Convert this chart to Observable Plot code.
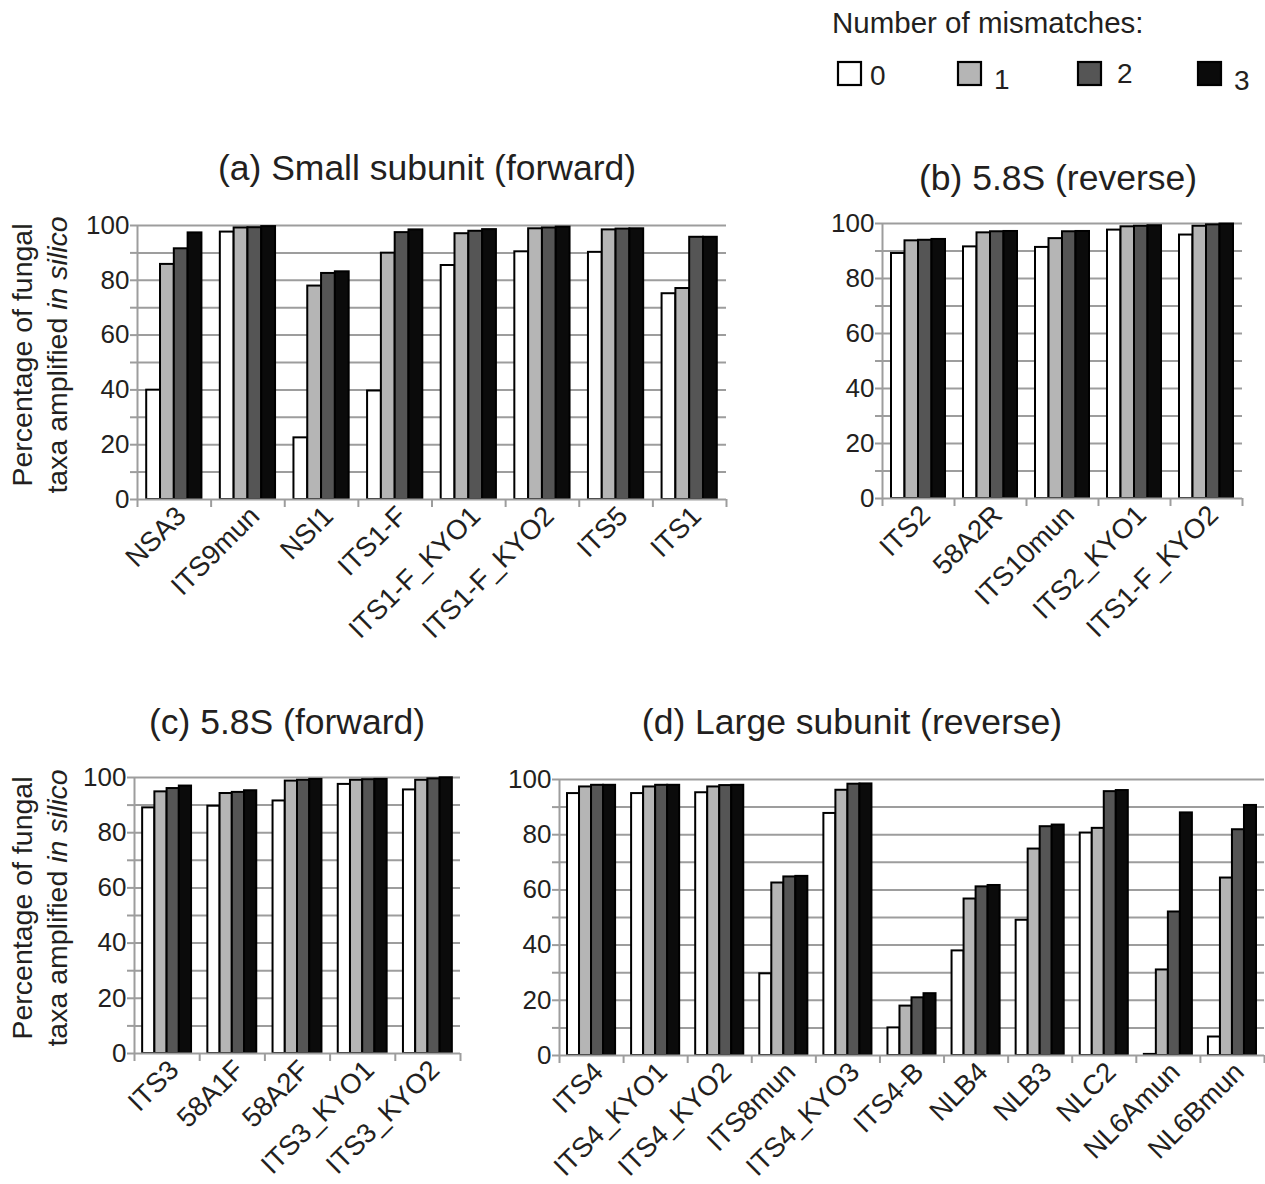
<!DOCTYPE html>
<html><head><meta charset="utf-8">
<script src="https://cdn.jsdelivr.net/npm/d3@7"></script>
<script src="https://cdn.jsdelivr.net/npm/@observablehq/plot@0.6"></script>
<style>
html,body{margin:0;padding:0;background:#fff;overflow:hidden;}
body{width:1265px;height:1184px;position:relative;font-family:"Liberation Sans",Arial,sans-serif;color:#231f20;}
.abs{position:absolute;}
.title{position:absolute;width:800px;text-align:center;font-size:35.5px;line-height:38px;white-space:nowrap;}
.ylab{position:absolute;width:400px;height:70px;text-align:center;font-size:28.5px;line-height:35px;transform:rotate(-90deg);white-space:nowrap;}
svg [aria-label="x-axis tick label"]{font-size:27.5px;}
</style></head><body>
<script>
// ---------- shared ----------
const mismatchLevels = [0, 1, 2, 3];
const mismatchFills = ["#ffffff", "#b5b5b5", "#555555", "#0b0b0b"];
const yTicks = [0, 10, 20, 30, 40, 50, 60, 70, 80, 90, 100];

// ---------- (a) Small subunit (forward) ----------
const catsA = ["NSA3", "ITS9mun", "NSI1", "ITS1-F", "ITS1-F_KYO1", "ITS1-F_KYO2", "ITS5", "ITS1"];
const a0 = [39.9, 97.6, 22.5, 39.6, 85.4, 90.4, 90.2, 75.1];
const a1 = [85.8, 99.1, 77.9, 89.9, 97.0, 98.8, 98.4, 77.0];
const a2 = [91.5, 99.2, 82.5, 97.4, 97.9, 99.1, 98.7, 95.7];
const a3 = [97.3, 99.6, 83.1, 98.4, 98.5, 99.4, 98.8, 95.7];

// ---------- (b) 5.8S (reverse) ----------
const catsB = ["ITS2", "58A2R", "ITS10mun", "ITS2_KYO1", "ITS1-F_KYO2"];
const b0 = [89.1, 91.5, 91.3, 97.6, 95.8];
const b1 = [93.7, 96.6, 94.5, 98.8, 99.0];
const b2 = [93.9, 97.0, 97.0, 99.0, 99.5];
const b3 = [94.2, 97.1, 97.1, 99.2, 99.8];

// ---------- (c) 5.8S (forward) ----------
const catsC = ["ITS3", "58A1F", "58A2F", "ITS3_KYO1", "ITS3_KYO2"];
const c0 = [89.0, 89.6, 91.5, 97.5, 95.5];
const c1 = [94.8, 94.2, 98.7, 99.0, 99.0];
const c2 = [96.0, 94.6, 99.0, 99.2, 99.5];
const c3 = [96.9, 95.2, 99.3, 99.3, 99.9];

// ---------- (d) Large subunit (reverse) ----------
const catsD = ["ITS4", "ITS4_KYO1", "ITS4_KYO2", "ITS8mun", "ITS4_KYO3", "ITS4-B", "NLB4", "NLB3", "NLC2", "NL6Amun", "NL6Bmun"];
const lsu0 = [94.9, 94.9, 95.2, 29.6, 87.7, 10.0, 37.9, 49.0, 80.6, 0.4, 6.7];
const lsu1 = [97.3, 97.3, 97.3, 62.5, 96.1, 17.9, 56.7, 74.8, 82.3, 31.0, 64.3];
const lsu2 = [97.9, 97.9, 97.8, 64.7, 98.3, 20.9, 61.1, 82.9, 95.6, 52.0, 81.8];
const lsu3 = [97.9, 97.9, 97.9, 64.9, 98.4, 22.4, 61.6, 83.5, 96.0, 87.9, 90.6];

const GRID = "#9d9d9d";
const TEXT = "#231f20";
const GROUP_PAD = 0.125;   // gap on each side of a cluster (fraction of band)
const BAR_W = 0.1875;      // each of the four bars (fraction of band)

function addDiv(cls, left, top, html) {
  const el = document.createElement("div");
  el.className = cls;
  el.style.left = left + "px";
  el.style.top = top + "px";
  el.innerHTML = html;
  document.body.appendChild(el);
  return el;
}

function panel({cats, series, plotLeft, plotRight, plotTop, plotBottom, mL = 70, mR = 5, mT = 10, mB = 170}) {
  const n = cats.length;
  const rows = [];
  cats.forEach((c, i) => mismatchLevels.forEach(m => rows.push({cat: c, i, m, v: series[m][i]})));
  const plotW = plotRight - plotLeft, plotH = plotBottom - plotTop;
  const chart = Plot.plot({
    width: mL + plotW + mR,
    height: mT + plotH + mB,
    marginLeft: mL, marginRight: mR, marginTop: mT, marginBottom: mB,
    style: {fontFamily: '"Liberation Sans", Arial, sans-serif', fontSize: "26px", color: TEXT, background: "transparent", overflow: "visible"},
    x: {domain: [0, n]},
    y: {domain: [0, 100]},
    color: {type: "ordinal", domain: mismatchLevels, range: mismatchFills},
    marks: [
      Plot.gridY(yTicks.filter(v => v > 0), {stroke: GRID, strokeWidth: 2, strokeOpacity: 1}),
      Plot.rect(rows, {
        x1: d => d.i + GROUP_PAD + d.m * BAR_W,
        x2: d => d.i + GROUP_PAD + (d.m + 1) * BAR_W,
        y1: d => 0,
        y2: "v",
        fill: "m",
        stroke: "#000",
        strokeWidth: 2
      }),
      Plot.ruleY([0], {stroke: GRID, strokeWidth: 2}),
      Plot.ruleX([0], {stroke: GRID, strokeWidth: 2}),
      Plot.axisY({ticks: yTicks, tickSize: 7, tickPadding: 1, tickFormat: d => d % 20 === 0 ? String(d) : "", stroke: GRID, strokeWidth: 2, fill: TEXT, label: null}),
      Plot.axisX({ticks: d3.range(0, n + 1), tickSize: 8, tickFormat: () => "", stroke: GRID, strokeWidth: 2, label: null}),
      Plot.axisX({ticks: cats.map((c, i) => i + 0.5), tickSize: 0, tickPadding: 12, tickRotate: -45, dx: 7, tickFormat: v => cats[Math.floor(v)], fill: TEXT, label: null})
    ]
  });
  const holder = document.createElement("div");
  holder.className = "abs";
  holder.style.left = (plotLeft - mL) + "px";
  holder.style.top = (plotTop - mT) + "px";
  holder.style.width = (mL + plotW + mR) + "px";
  holder.appendChild(chart);
  document.body.appendChild(holder);
}

panel({cats: catsA, series: [a0, a1, a2, a3], plotLeft: 137, plotRight: 726, plotTop: 225, plotBottom: 499});
panel({cats: catsB, series: [b0, b1, b2, b3], plotLeft: 882, plotRight: 1242, plotTop: 223, plotBottom: 498});
panel({cats: catsC, series: [c0, c1, c2, c3], plotLeft: 134, plotRight: 460, plotTop: 777, plotBottom: 1053, mB: 128});
panel({cats: catsD, series: [lsu0, lsu1, lsu2, lsu3], plotLeft: 559, plotRight: 1264, plotTop: 779, plotBottom: 1055, mB: 126, mR: 1});

// titles
addDiv("title", 427 - 400, 168 - 19, "(a) Small subunit (forward)");
addDiv("title", 1058 - 400, 178 - 19, "(b) 5.8S (reverse)");
addDiv("title", 287 - 400, 722 - 19, "(c) 5.8S (forward)");
addDiv("title", 852 - 400, 722 - 19, "(d) Large subunit (reverse)");

// y-axis titles
const yLabel = "Percentage of fungal<br>taxa amplified <i>in silico</i>";
addDiv("ylab", 40 - 200, 355 - 35, yLabel);
addDiv("ylab", 40 - 200, 908 - 35, yLabel);

// legend
const legendLabels = ["0", "1", "2", "3"];
const legendSwatchX = [838, 958, 1078, 1198];
const legendTextX = [870, 994, 1117, 1234];
const legendTextY = [85, 89, 83, 90];
const leg = d3.select("body").append("svg")
  .attr("class", "abs").style("left", "0px").style("top", "0px")
  .attr("width", 1265).attr("height", 110)
  .style("font-family", '"Liberation Sans", Arial, sans-serif');
leg.append("text").attr("x", 832).attr("y", 33).attr("font-size", 29.5).attr("fill", TEXT).text("Number of mismatches:");
leg.selectAll("rect.sw").data(mismatchLevels).join("rect")
  .attr("x", (d, i) => legendSwatchX[i]).attr("y", 62).attr("width", 23).attr("height", 23)
  .attr("fill", d => mismatchFills[d]).attr("stroke", "#000").attr("stroke-width", 2.2);
leg.selectAll("text.lb").data(mismatchLevels).join("text")
  .attr("x", (d, i) => legendTextX[i]).attr("y", (d, i) => legendTextY[i])
  .attr("font-size", 28).attr("fill", TEXT).text((d, i) => legendLabels[i]);
</script>
</body></html>
